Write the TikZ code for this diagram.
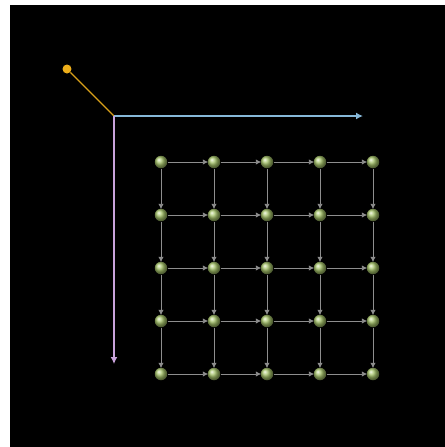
\documentclass[tikz,border=0pt]{standalone}
\usetikzlibrary{arrows.meta}
\definecolor{axisblue}{HTML}{86B8D8}
\definecolor{axispurple}{HTML}{C9A3DB}
\definecolor{linkorange}{HTML}{D9A019}
\definecolor{dotorange}{HTML}{EDAE1A}
\definecolor{ballgreen}{HTML}{A6C46A}
\definecolor{edgegray}{HTML}{8E8E8E}
\tikzset{
  ball/.style={circle,inner sep=0pt,minimum size=0.25cm,shading=ball,ball color=ballgreen},
  edge/.style={edgegray,line width=0.55pt,-{Latex[length=1.1mm,width=1.1mm]},shorten >=-0.5pt},
  axis/.style={line width=0.8pt,-{Latex[length=1.4mm,width=1.4mm]}},
  handle/.style={circle,inner sep=0pt,minimum size=0.18cm,fill=dotorange}
}
\begin{document}
\begin{tikzpicture}[x=0.02cm,y=-0.02cm]
\useasboundingbox (0,0) rectangle (445,447);
\fill[black] (10,5) rectangle (445,447);
% frame axes
\coordinate (o) at (114,116);
\coordinate (xend) at (363,116);
\coordinate (yend) at (114,364);
\node[handle] (p) at (67,69) {};
\draw[linkorange,line width=0.8pt] (o) -- (p);
\draw[axis,axisblue] (o) -- (xend);
\draw[axis,axispurple] (o) -- (yend);
% grid of balls
\foreach \i in {0,...,4}
  \foreach \j in {0,...,4}
    \node[ball] (n-\i-\j) at ({161+53*\i},{162+53*\j}) {};
\foreach \i [evaluate=\i as \k using int(\i+1)] in {0,...,3}
  \foreach \j in {0,...,4}
  {\draw[edge] (n-\i-\j) -- (n-\k-\j);
   \draw[edge] (n-\j-\i) -- (n-\j-\k);}
\end{tikzpicture}
\end{document}
